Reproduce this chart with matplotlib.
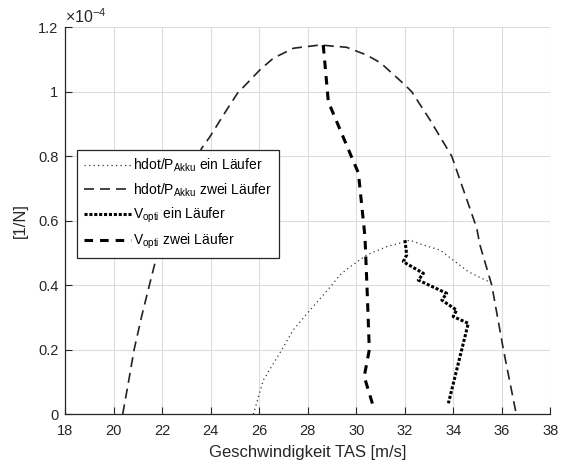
import numpy as np
import matplotlib
matplotlib.use("Agg")
import matplotlib.pyplot as plt
from matplotlib.ticker import FuncFormatter

plt.rcParams['font.family'] = ['Liberation Sans', 'DejaVu Sans']
plt.rcParams['mathtext.fontset'] = 'custom'
plt.rcParams['mathtext.rm'] = 'Liberation Sans'
plt.rcParams['mathtext.it'] = 'Liberation Sans:italic'
plt.rcParams['mathtext.bf'] = 'Liberation Sans:bold'

SCALE = 1e-4

# Steigrate pro Akkuleistung, ein Läufer
hdot_ein_x = [25.76, 26.17, 26.93, 27.40, 27.98, 28.99, 29.33, 29.67, 30.43,
              31.26, 32.01, 32.20, 32.77, 33.46, 34.62, 35.50]
hdot_ein_y = [0.000, 0.106, 0.200, 0.261, 0.313, 0.400, 0.432, 0.453, 0.494,
              0.520, 0.535, 0.540, 0.525, 0.509, 0.442, 0.410]

# Steigrate pro Akkuleistung, zwei Läufer
hdot_zwei_x = [20.37, 20.60, 20.84, 21.15, 21.47, 21.77, 22.60, 23.63, 23.97,
               24.66, 25.10, 26.03, 26.58, 27.41, 28.50, 29.60, 30.43, 31.00,
               32.01, 32.29, 33.04, 33.94, 34.97, 35.10, 35.59, 36.07, 36.60]
hdot_zwei_y = [0.000, 0.096, 0.200, 0.303, 0.400, 0.489, 0.680, 0.825, 0.861,
               0.944, 0.995, 1.068, 1.104, 1.135, 1.145, 1.138, 1.114, 1.090,
               1.021, 1.000, 0.913, 0.800, 0.577, 0.525, 0.400, 0.200, 0.000]

# Optimale Geschwindigkeit, ein Läufer
vopt_ein_x = [32.01, 32.08, 31.94, 32.77, 32.56, 33.73, 33.53, 34.14, 34.00,
              34.62, 33.80]
vopt_ein_y = [0.540, 0.494, 0.473, 0.437, 0.416, 0.375, 0.354, 0.323, 0.303,
              0.282, 0.034]

# Optimale Geschwindigkeit, zwei Läufer
vopt_zwei_x = [28.64, 28.85, 29.74, 30.09, 30.36, 30.46, 30.54, 30.33, 30.68]
vopt_zwei_y = [1.145, 0.969, 0.810, 0.748, 0.551, 0.365, 0.200, 0.117, 0.030]

labels = [r"hdot/P$_{\mathrm{Akku}}$ ein Läufer",
          r"hdot/P$_{\mathrm{Akku}}$ zwei Läufer",
          r"V$_{\mathrm{opti}}$ ein Läufer",
          r"V$_{\mathrm{opti}}$ zwei Läufer"]

xticks = np.arange(18, 39, 2)
yticks = np.arange(0, 1.21, 0.2)

dark = '#262626'

fig = plt.figure(figsize=(5.64, 4.67), dpi=100)
ax = fig.add_axes([0.1156, 0.1129, 0.8600, 0.8287])

ax.plot(hdot_ein_x, np.array(hdot_ein_y) * SCALE, color='#333333', lw=0.9,
        dashes=(1, 2.6), label=labels[0])
ax.plot(hdot_zwei_x, np.array(hdot_zwei_y) * SCALE, color='#222222', lw=1.2,
        dashes=(6, 3.6), label=labels[1])
ax.plot(vopt_ein_x, np.array(vopt_ein_y) * SCALE, color='black', lw=2.2,
        dashes=(1, 0.6), label=labels[2])
ax.plot(vopt_zwei_x, np.array(vopt_zwei_y) * SCALE, color='black', lw=2.2,
        dashes=(2.8, 2.3), label=labels[3])

ax.set_xlim(18, 38)
ax.set_ylim(0, 1.2 * SCALE)
ax.set_xticks(xticks)
ax.set_yticks(yticks * SCALE)
ax.yaxis.set_major_formatter(FuncFormatter(lambda v, p: f"{v / SCALE:g}"))

ax.grid(True, color='#dcdcdc', lw=0.8)
ax.set_axisbelow(True)
for side in ('top', 'right'):
    ax.spines[side].set_visible(False)
for side in ('left', 'bottom'):
    ax.spines[side].set_color(dark)
    ax.spines[side].set_linewidth(0.9)
ax.tick_params(direction='in', length=5, width=0.8, colors=dark,
               labelsize=10.5, labelcolor=dark, pad=5)
ax.tick_params(axis='x', pad=7)

ax.set_xlabel("Geschwindigkeit TAS [m/s]", fontsize=12, color=dark, labelpad=5)
ax.set_ylabel("[1/N]", fontsize=12, color=dark, labelpad=7)

ax.text(0.0, 1.004, r"$\times$10$^{\mathrm{-4}}$", transform=ax.transAxes,
        fontsize=11.5, color=dark, ha='left', va='bottom')

leg = ax.legend(loc='upper left', bbox_to_anchor=(0.0237, 0.683),
                borderaxespad=0, fontsize=10, handlelength=3.4,
                handletextpad=0.15, labelspacing=0.5, fancybox=False,
                framealpha=1, edgecolor=dark, borderpad=0.5)
leg.get_frame().set_linewidth(0.9)
for t in leg.get_texts():
    t.set_color('black')

fig.savefig("out.png", dpi=100, facecolor='white')
